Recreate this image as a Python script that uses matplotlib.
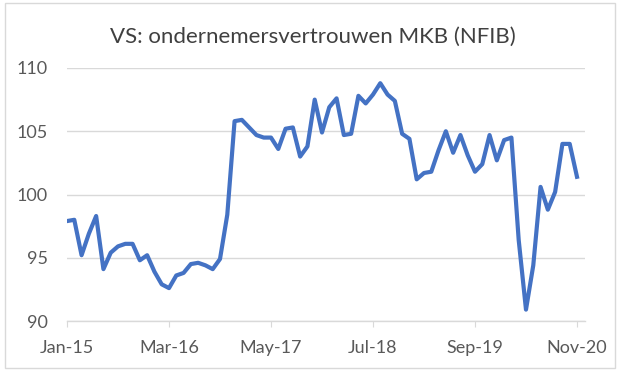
import numpy as np
import matplotlib.pyplot as plt
from matplotlib.patches import Rectangle

# NFIB small business optimism index, monthly Jan-15 .. Nov-20
nfib = [
    97.9, 98.0, 95.2, 96.9, 98.3, 94.1, 95.4, 95.9, 96.1, 96.1, 94.8, 95.2,   # 2015
    93.9, 92.9, 92.6, 93.6, 93.8, 94.5, 94.6, 94.4, 94.1, 94.9, 98.4, 105.8,  # 2016
    105.9, 105.3, 104.7, 104.5, 104.5, 103.6, 105.2, 105.3, 103.0, 103.8, 107.5, 104.9,  # 2017
    106.9, 107.6, 104.7, 104.8, 107.8, 107.2, 107.9, 108.8, 107.9, 107.4, 104.8, 104.4,  # 2018
    101.2, 101.7, 101.8, 103.5, 105.0, 103.3, 104.7, 103.1, 101.8, 102.4, 104.7, 102.7,  # 2019
    104.3, 104.5, 96.4, 90.9, 94.4, 100.6, 98.8, 100.2, 104.0, 104.0, 101.4,  # 2020
]
tick_labels = ["Jan-15", "Mar-16", "May-17", "Jul-18", "Sep-19", "Nov-20"]
y_ticks = [90, 95, 100, 105, 110]

plt.rcParams['font.family'] = ['Lato', 'DejaVu Sans']

fig = plt.figure(figsize=(6.25, 3.73), dpi=100)
ax = fig.add_axes([67 / 625, 1 - 321 / 373, 518 / 625, 253 / 373])

months = np.arange(len(nfib))
ax.plot(months, nfib, color="#4472C4", linewidth=3.0, solid_joinstyle="round")

ax.set_xlim(0, 71.1)
ax.set_ylim(90, 110)
ax.set_yticks(y_ticks)
ax.set_xticks(np.arange(0, len(nfib), 14))
ax.set_xticklabels(tick_labels)

ax.grid(axis="y", color="#D9D9D9", linewidth=1)
ax.set_axisbelow(True)
for side in ["top", "right", "left"]:
    ax.spines[side].set_visible(False)
ax.spines["bottom"].set_color("#D9D9D9")
ax.spines["bottom"].set_linewidth(1)

ax.tick_params(axis="y", length=0, pad=14, labelsize=13, labelcolor="#595959")
ax.tick_params(axis="x", length=4, color="#D9D9D9", pad=10, labelsize=13, labelcolor="#595959")

fig.text(0.5, 1 - 37 / 373, "VS: ondernemersvertrouwen MKB (NFIB)",
         ha="center", va="center", fontsize=16, color="#404040")

# light border around the chart
fig.patches.append(Rectangle((5 / 625, 1 - 368 / 373), 610 / 625, 365 / 373,
                             transform=fig.transFigure, fill=False,
                             edgecolor="#D9D9D9", linewidth=1))

fig.savefig("out.png", dpi=100)
